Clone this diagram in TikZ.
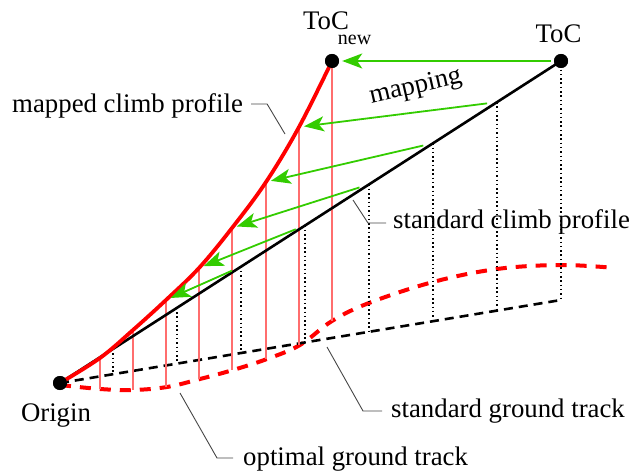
\documentclass[tikz,border=0pt]{standalone}
\usepackage{fontspec}
\setmainfont{Liberation Serif}
\usetikzlibrary{arrows.meta,calc}
\definecolor{tgreen}{RGB}{51,204,0}
\definecolor{tred}{RGB}{255,0,0}
\definecolor{tpink}{RGB}{255,110,110}
\definecolor{tgray}{RGB}{70,70,70}
\begin{document}
\begin{tikzpicture}[x=1pt,y=-1pt,
  lbl/.style={font=\fontsize{26.8}{30}\selectfont, inner sep=0pt},
  dotnode/.style={circle,fill=black,inner sep=0pt,minimum size=14pt},
  blackline/.style={line width=2.6pt},
  blackdash/.style={line width=2.6pt, dash pattern=on 9pt off 6pt},
  dotline/.style={line width=1.5pt, dash pattern=on 1.5pt off 2.8pt},
  redcurve/.style={tred, line width=3.8pt},
  reddash/.style={tred, line width=4pt, dash pattern=on 11pt off 9pt},
  redthin/.style={tpink, line width=1.3pt},
  maparrow/.style={tgreen, line width=1.8pt, -{Stealth[length=20pt,width=15pt,inset=5pt]}, shorten <=10pt, shorten >=5pt},
  leader/.style={tgray, line width=0.9pt}]
\useasboundingbox (0,0) rectangle (632,473);

% ground tracks
\coordinate (G) at (561,300);
\draw[reddash] plot[smooth, tension=0.6] coordinates {(60,385) (100,389) (133,390) (167,387) (200,379) (233,370) (267,359) (300,345) (332,321) (369,303) (433,282) (497,269) (561,265) (615,268)};

% dotted verticals (standard profile)
\foreach \x [count=\i] in {113,177,241,305,369,433,497,561} {
  \pgfmathsetmacro\yl{383-(\x-60)/501*322}
  \pgfmathsetmacro\yg{383-(\x-60)/501*83}
  \coordinate (b\i) at (\x,\yl);
  \coordinate (g\i) at (\x,\yg);
  \draw[dotline] (b\i) -- (g\i);
}
\draw[blackdash] (60,383) -- (G);

% red verticals (mapped profile)
\foreach \x/\yt/\yb [count=\i] in {100/358/389, 133/330/390, 166/300/387, 199/268/379, 232/228/370, 266/182/359, 299/127/345, 332/61/321} {
  \coordinate (r\i) at (\x,\yt);
  \coordinate (q\i) at (\x,\yb);
  \draw[redthin] (r\i) -- (q\i);
}

% dots
\node[dotnode] (Origin) at (60,383) {};
\node[dotnode] (ToC) at (561,61) {};
\node[dotnode] (ToCnew) at (332,61) {};

% standard climb profile
\draw[blackline] (Origin.center) -- (ToC.center);
% mapped climb profile
\draw[redcurve] plot[smooth, tension=0.6] coordinates {(60,383) (100,358) (133,330) (166,300) (199,268) (232,228) (266,182) (299,127) (332,61)};

% mapping arrows
\draw[maparrow, shorten <=3pt, shorten >=3pt] (ToC) -- (ToCnew);
\draw[maparrow] (b7) -- (r7);
\draw[maparrow] (b6) -- (r6);
\draw[maparrow] (b5) -- (r5);
\draw[maparrow] (b4) -- (r4);
\draw[maparrow] (b3) -- (r3);

\node[dotnode] at (ToCnew) {};
\node[dotnode] at (ToC) {};
\node[dotnode] at (Origin) {};

% labels
\node[lbl, anchor=base] (ltoc) at (558.5,43) {ToC};
\node[lbl, anchor=base west] (ltocnew) at (303,30) {ToC\kern-11pt\raisebox{-15pt}{\fontsize{20}{20}\selectfont new}};
\node[lbl, anchor=base] (lorigin) at (56,421) {Origin};
\node[lbl, rotate=13, anchor=base] (lmap) at (417,93) {mapping};
\node[lbl, anchor=base west] (lmapped) at (12,113) {mapped climb profile};
\node[lbl, anchor=base west] (lscp) at (393,229) {standard climb profile};
\node[lbl, anchor=base west] (lsgt) at (391,417) {standard ground track};
\node[lbl, anchor=base west] (logt) at (243,465) {optimal ground track};

% leaders
\coordinate (pm) at (285,134);
\coordinate (ps) at (353,200);
\coordinate (pg) at (327,347);
\coordinate (po) at (180,393);
\draw[leader] ([xshift=8pt,yshift=9pt]lmapped.base east) -- ++(16,0) -- (pm);
\draw[leader] ([xshift=-7pt,yshift=6pt]lscp.base west) -- ++(-18,0) -- (ps);
\draw[leader] ([xshift=-9pt,yshift=6pt]lsgt.base west) -- ++(-19,0) -- (pg);
\draw[leader] ([xshift=-10pt,yshift=7pt]logt.base west) -- ++(-16,0) -- (po);
\end{tikzpicture}
\end{document}
